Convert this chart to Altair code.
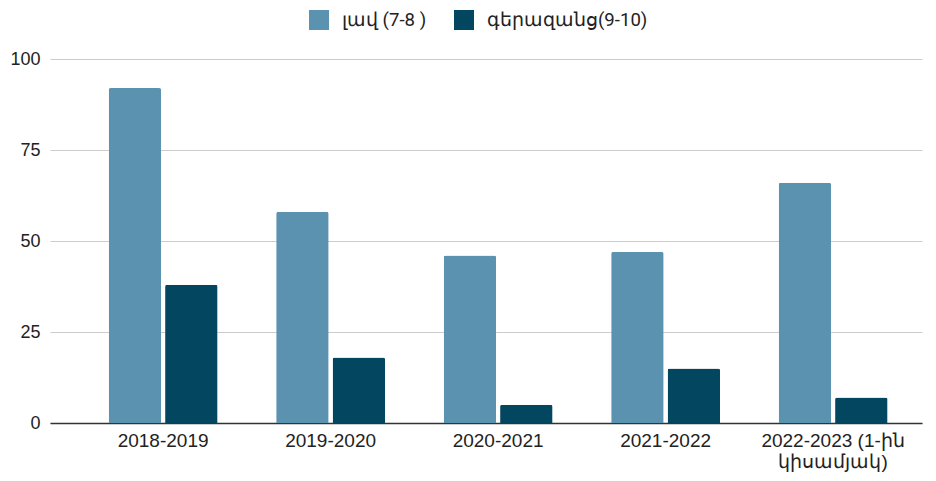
import altair as alt
import pandas as pd

categories = ["2018-2019", "2019-2020", "2020-2021", "2021-2022", "2022-2023 (1-ին\nկիսամյակ)"]
series_names = ["լավ (7-8 )", "գերազանց(9-10)"]
good = [92, 58, 46, 47, 66]
excellent = [38, 18, 5, 15, 7]
colors = ["#5a92b0", "#03465f"]

rows = []
for i, c in enumerate(categories):
    rows.append({"period": c, "series": series_names[0], "value": good[i]})
    rows.append({"period": c, "series": series_names[1], "value": excellent[i]})
df = pd.DataFrame(rows)

chart = alt.Chart(df).mark_bar(cornerRadiusTopLeft=2, cornerRadiusTopRight=2).encode(
    x=alt.X("period:N", sort=categories, title=None,
            scale=alt.Scale(paddingInner=0.35, paddingOuter=0.278, align=0.63),
            axis=alt.Axis(labelAngle=0, labelExpr="split(datum.label, '\\n')",
                          labelFont="Liberation Sans", labelFontSize=19, labelColor="#222222",
                          labelPadding=8, ticks=False, domainColor="#333333", domainWidth=1.5,
                          labelLineHeight=21, labelLimit=300)),
    xOffset=alt.XOffset("series:N", sort=series_names,
                        scale=alt.Scale(paddingInner=0.07)),
    y=alt.Y("value:Q", title=None, scale=alt.Scale(domain=[0, 100]),
            axis=alt.Axis(values=[0, 25, 50, 75, 100], labelFont="Liberation Sans",
                          labelFontSize=18, labelColor="#222222", labelPadding=10,
                          ticks=False, domain=False, gridColor="#cccccc", gridWidth=1)),
    color=alt.Color("series:N", sort=series_names,
                    scale=alt.Scale(domain=series_names, range=colors),
                    legend=alt.Legend(title=None, orient="none", direction="horizontal",
                                      legendX=259, legendY=-49, symbolType="square",
                                      symbolSize=400, symbolStrokeWidth=0,
                                      labelFont="Roboto", labelFontSize=18.6,
                                      labelColor="#222222", columnPadding=27,
                                      labelOffset=13, labelLimit=300)),
).properties(
    width=872, height=364,
    autosize=alt.AutoSizeParams(type="none"),
    padding={"left": 42, "top": 51, "right": 6, "bottom": 49},
).configure_view(stroke=None)

chart.save("out.html", embed_options={"renderer": "svg", "actions": False})
